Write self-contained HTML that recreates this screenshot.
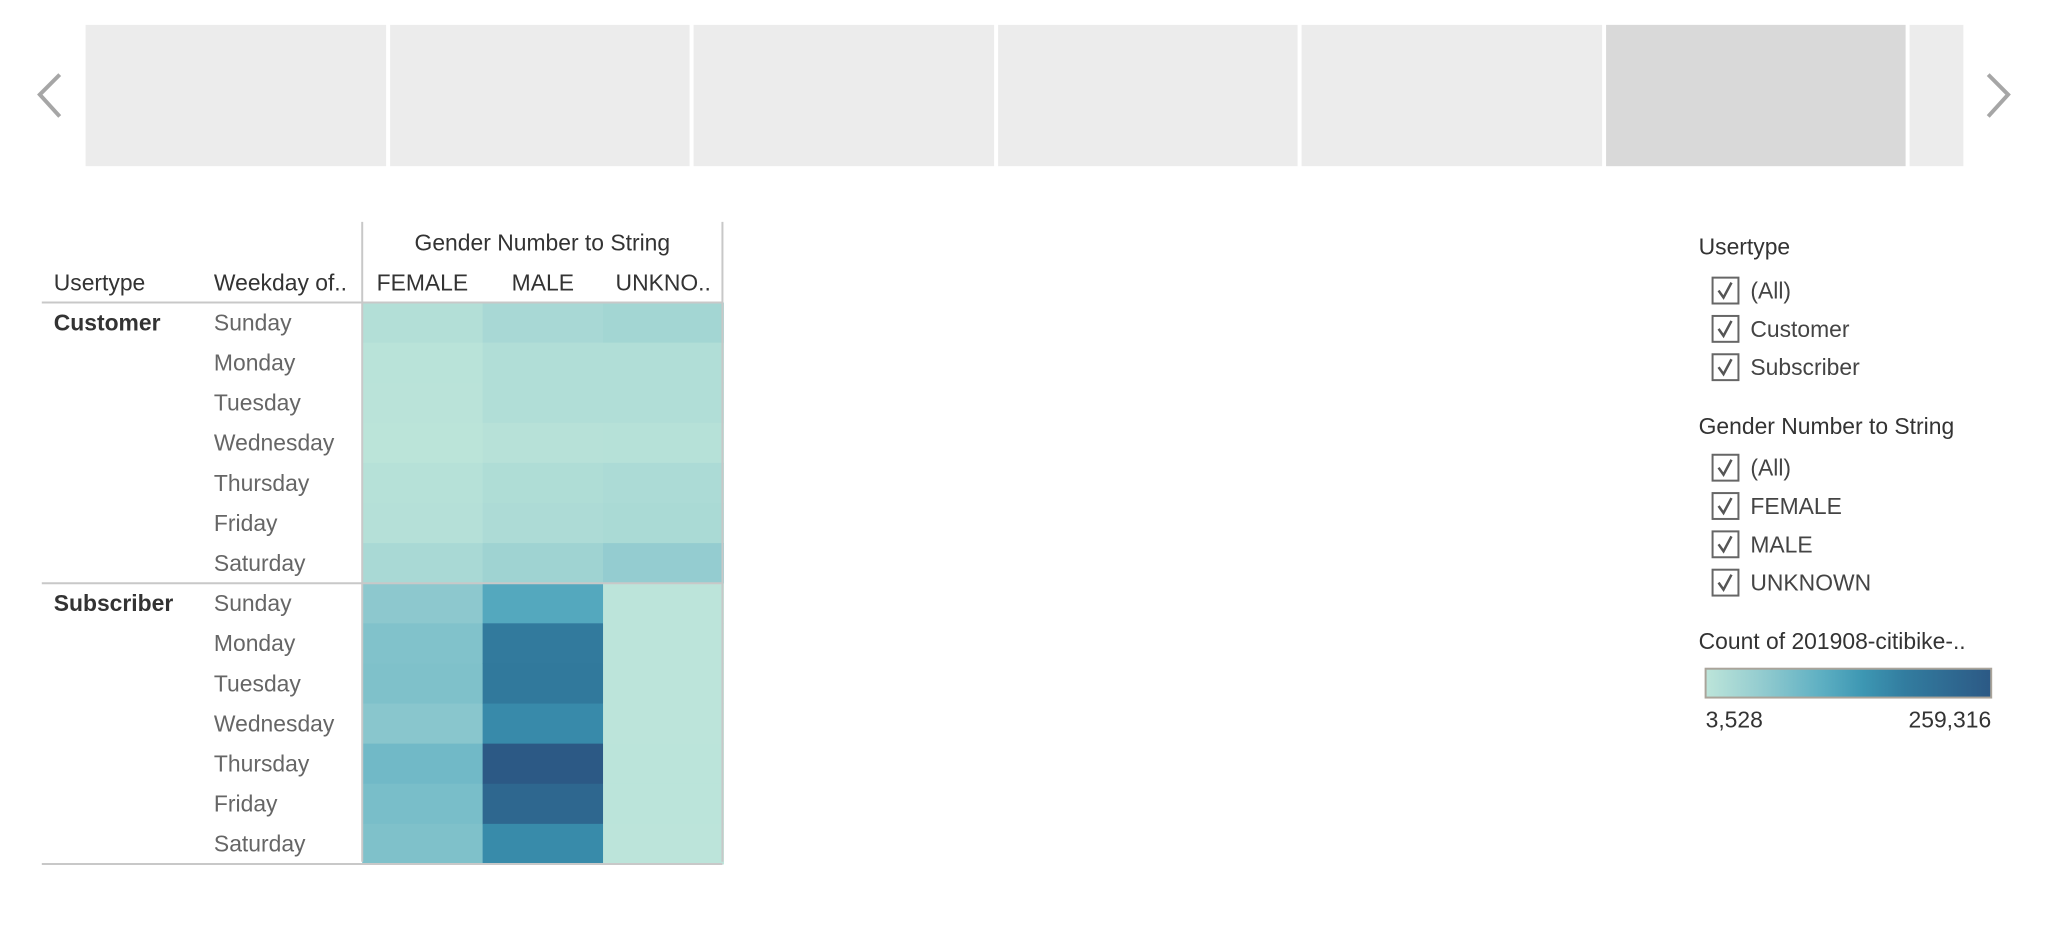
<!DOCTYPE html>
<html><head><meta charset="utf-8">
<style>
html,body{margin:0;padding:0;background:#fff;width:2072px;height:928px;overflow:hidden;font-family:"Liberation Sans",sans-serif;}
</style></head>
<body>
<svg id="chart" width="2072" height="928" xmlns="http://www.w3.org/2000/svg">
  <defs>
    <linearGradient id="ramp" x1="0" x2="1" y1="0" y2="0">
      <stop offset="0" stop-color="#bde5da"/><stop offset="0.2" stop-color="#92cbcf"/>
      <stop offset="0.4" stop-color="#5fb0c3"/><stop offset="0.55" stop-color="#3d97b3"/>
      <stop offset="0.7" stop-color="#327c9f"/><stop offset="1" stop-color="#2c5985"/>
    </linearGradient>
  </defs>
  <g transform="scale(0.9951)">
  <g id="carousel"></g>
  <g id="table"></g>
  <g id="legend"></g>
  </g>
</svg>
<script>
const userTypes = ["Customer", "Subscriber"];
const weekdays = ["Sunday","Monday","Tuesday","Wednesday","Thursday","Friday","Saturday"];
const genders = ["FEMALE","MALE","UNKNO.."];
const customerFemale = [16000, 8000, 7500, 6000, 12000, 13000, 27000];
const customerMale = [29000, 18000, 18000, 11000, 20000, 23000, 39000];
const customerUnknown = [34000, 18000, 18000, 12000, 24000, 26000, 52000];
const subscriberFemale = [60000, 72000, 74000, 64000, 88000, 80000, 74000];
const subscriberMale = [118000, 188000, 190000, 162000, 259316, 229000, 161000];
const subscriberUnknown = [5000, 5000, 5000, 5000, 5500, 5500, 5000];
const colorMin = 3528, colorMax = 259316;
const legendLabels = ["3,528", "259,316"];

const NS = "http://www.w3.org/2000/svg";
function mk(parent, tag, attrs, text){
  const e = document.createElementNS(NS, tag);
  for (const k in attrs) e.setAttribute(k, attrs[k]);
  if (text !== undefined) e.textContent = text;
  parent.appendChild(e);
  return e;
}
const stops = [[0,[0xbd,0xe5,0xda]],[0.2,[0x92,0xcb,0xcf]],[0.4,[0x5f,0xb0,0xc3]],[0.55,[0x3d,0x97,0xb3]],[0.7,[0x32,0x7c,0x9f]],[1,[0x2c,0x59,0x85]]];
function color(v){
  let t = (v - colorMin) / (colorMax - colorMin);
  t = Math.max(0, Math.min(1, t));
  for (let i = 1; i < stops.length; i++){
    if (t <= stops[i][0]){
      const a = stops[i-1], b = stops[i];
      const f = (t - a[0]) / (b[0] - a[0]);
      const c = a[1].map((x, j) => Math.round(x + (b[1][j] - x) * f));
      return "rgb(" + c.join(",") + ")";
    }
  }
  return "rgb(44,89,133)";
}

// carousel
const car = document.getElementById("carousel");
const tileX = [86, 392, 697, 1003, 1308, 1614, 1919];
const tileW = [302, 301, 302, 301, 302, 301, 54];
tileX.forEach((x, i) => {
  const r = mk(car, "rect", {x: x, y: 25, width: tileW[i], height: 142, fill: i === 5 ? "#d9d9d9" : "#ececec"});
  
  
});
let la = mk(car, "polyline", {points: "60,75 40,95 60,117", fill: "none", stroke: "#a6a6a6", "stroke-width": 4});


let ra = mk(car, "polyline", {points: "1998,75 2018,95 1998,117", fill: "none", stroke: "#a6a6a6", "stroke-width": 4});



// table
const tb = document.getElementById("table");
const x0 = 364, colW = 121, y0 = 304, rowH = 40.3;
const xScale = i => x0 + i * colW;
const yScale = (u, d) => y0 + (u * weekdays.length + d) * rowH;
const series = [[customerFemale, customerMale, customerUnknown],[subscriberFemale, subscriberMale, subscriberUnknown]];
series.forEach((grp, u) => {
  grp.forEach((vals, g) => {
    vals.forEach((v, d) => {
      const c = mk(tb, "rect", {x: xScale(g), y: yScale(u, d), width: colW + 0.5, height: rowH + 0.5, fill: color(v)});
      
      
    });
  });
});
const txt = {fill: "#333", "font-size": 23, "font-family": "Liberation Sans, sans-serif"};
let t;
t = mk(tb, "text", Object.assign({x: 545, y: 252, "text-anchor": "middle"}, txt), "Gender Number to String");
 
t = mk(tb, "text", Object.assign({x: 54, y: 292}, txt), "Usertype");
 
t = mk(tb, "text", Object.assign({x: 215, y: 292}, txt), "Weekday of..");
 
genders.forEach((g, i) => {
  const e = mk(tb, "text", Object.assign({x: xScale(i) + colW / 2, y: 292, "text-anchor": "middle"}, txt), g);
  
  
});
userTypes.forEach((u, ui) => {
  const e = mk(tb, "text", Object.assign({x: 54, y: yScale(ui, 0) + 28, "font-weight": "bold"}, txt), u);
  
  
  weekdays.forEach((d, di) => {
    const w = mk(tb, "text", Object.assign({x: 215, y: yScale(ui, di) + 28}, txt, {fill: "#666"}), d);
    
    
  });
});
const ln = {stroke: "#c8c8c8", "stroke-width": 2};
mk(tb, "line", Object.assign({x1: 364, y1: 223, x2: 364, y2: 866}, ln));
mk(tb, "line", Object.assign({x1: 726, y1: 223, x2: 726, y2: 866}, ln));
mk(tb, "line", Object.assign({x1: 42, y1: 304, x2: 726, y2: 304}, ln));
mk(tb, "line", Object.assign({x1: 42, y1: yScale(1, 0), x2: 726, y2: yScale(1, 0)}, ln));
mk(tb, "line", Object.assign({x1: 42, y1: yScale(2, 0), x2: 726, y2: yScale(2, 0)}, ln));

// legend
const lg = document.getElementById("legend");
function title(y, s, name){
  const e = mk(lg, "text", Object.assign({x: 1707, y: y}, txt), s);
  
  
}
function item(y, s){
  const b = mk(lg, "rect", {x: 1721, y: y - 13, width: 26, height: 26, fill: "#fff", stroke: "#666", "stroke-width": 2});
  
  
  mk(lg, "polyline", {points: (1727)+","+(y)+" "+(1732)+","+(y+7)+" "+(1740)+","+(y-8), fill: "none", stroke: "#555", "stroke-width": 2.5});
  const e = mk(lg, "text", Object.assign({x: 1759, y: y + 8}, txt, {fill: "#444"}), s);
  
  
}
title(256, "Usertype", "usertype-filter-title");
["(All)", "Customer", "Subscriber"].forEach((s, i) => item(292 + i * 38.5, s));
title(436, "Gender Number to String", "gender-filter-title");
["(All)", "FEMALE", "MALE", "UNKNOWN"].forEach((s, i) => item(470 + i * 38.5, s));
title(652, "Count of 201908-citibike-..", "color-legend-title");
const bar = mk(lg, "rect", {x: 1714, y: 672, width: 287, height: 29, fill: "url(#ramp)", stroke: "#aaa49a", "stroke-width": 2});


let l1 = mk(lg, "text", Object.assign({x: 1714, y: 731}, txt), legendLabels[0]);
 
let l2 = mk(lg, "text", Object.assign({x: 2001, y: 731, "text-anchor": "end"}, txt), legendLabels[1]);
 
</script>
</body></html>
